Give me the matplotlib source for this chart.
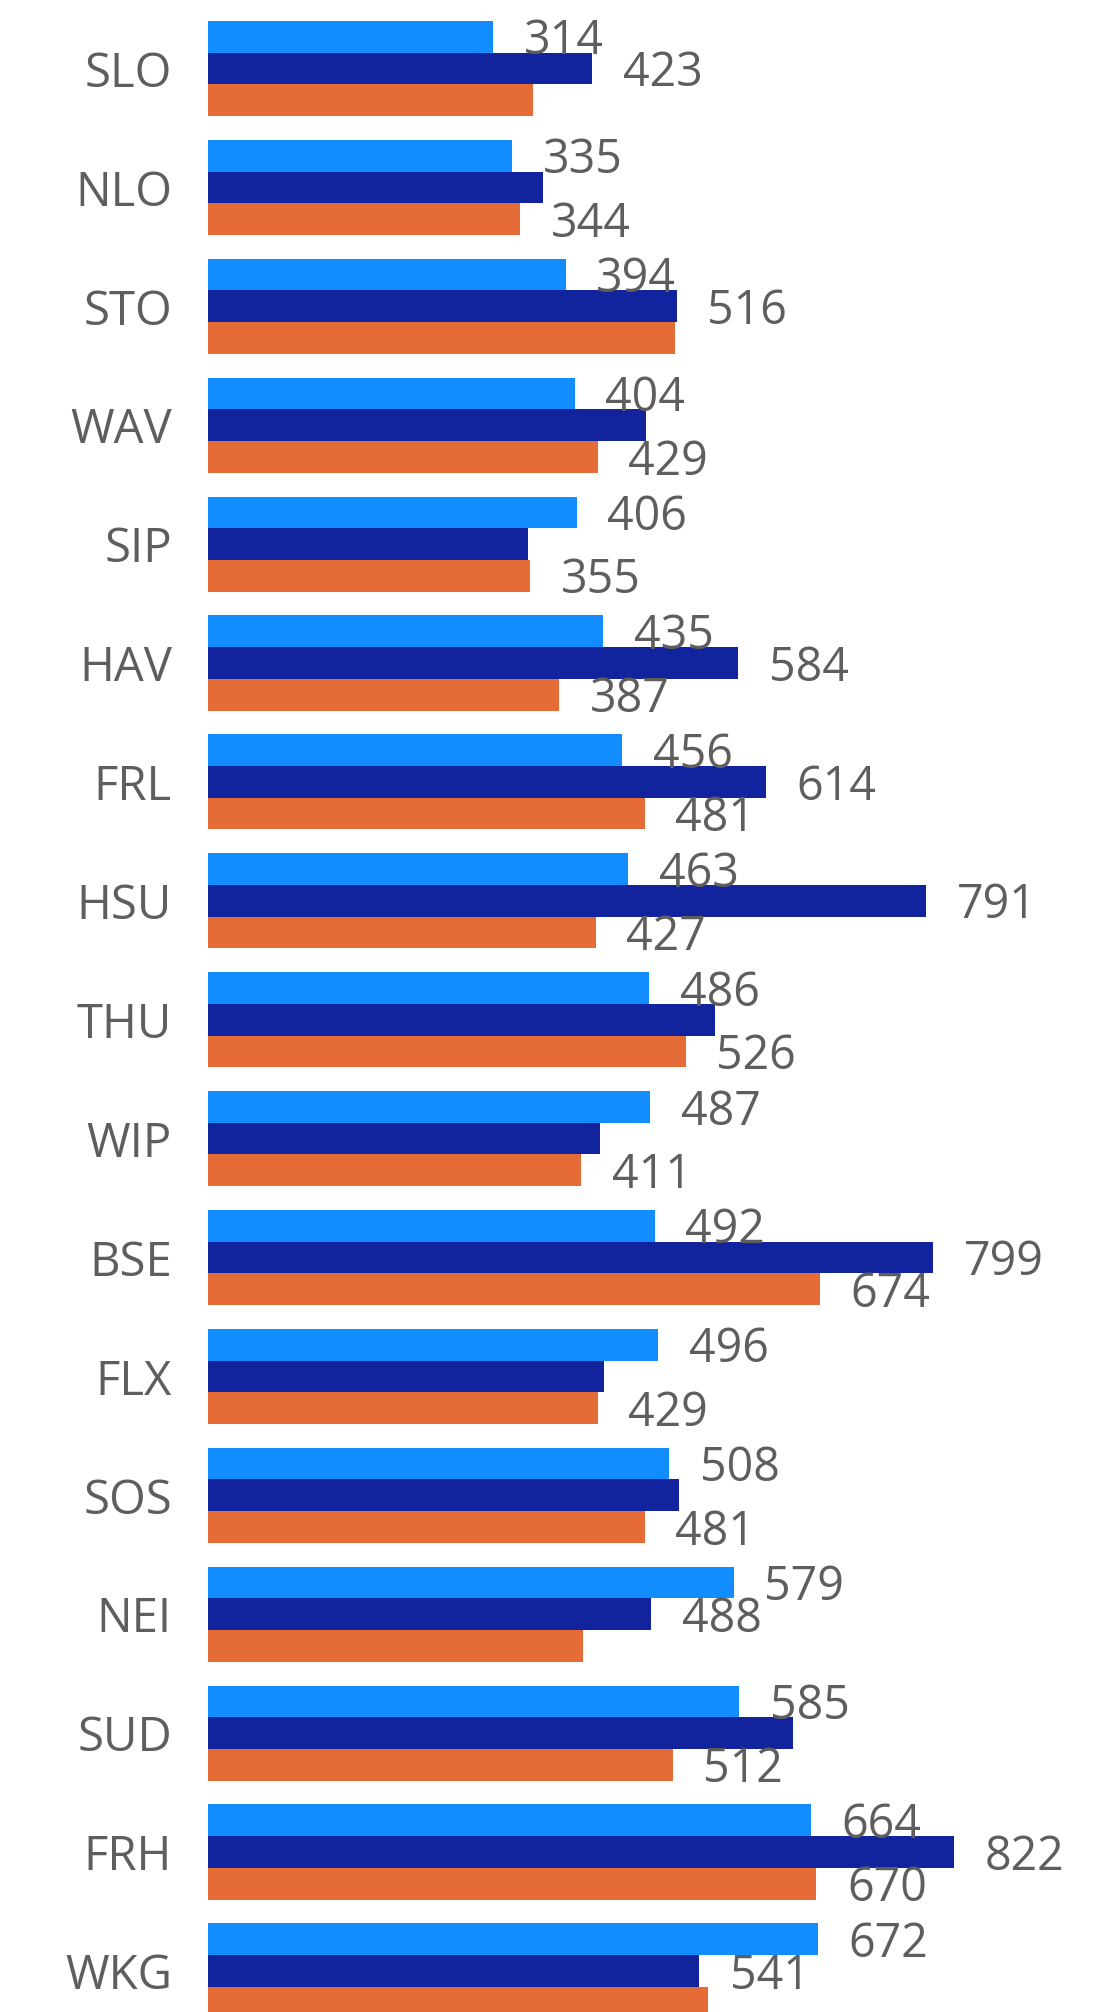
import numpy as np
import matplotlib.pyplot as plt

cats = ['SLO','NLO','STO','WAV','SIP','HAV','FRL','HSU','THU','WIP','BSE','FLX','SOS','NEI','SUD','FRH','WKG']
light = [314,335,394,404,406,435,456,463,486,487,492,496,508,579,585,664,672]
dark = [423,369,516,482,352,584,614,791,558,432,799,436,519,488,644,822,541]
orange = [358,344,514,429,355,387,481,427,526,411,674,429,481,413,512,670,551]
# which data labels are visible in the original
light_lbl = [1]*17
dark_lbl = [1,0,1,0,0,1,1,1,0,0,1,0,0,1,0,1,1]
orange_lbl = [0,1,0,1,1,1,1,1,1,1,1,1,1,0,1,1,0]

colors = ['#118DFF','#12239E','#E66C37']
txt_col = '#605E5C'

plt.rcParams['font.family'] = ['Open Sans','DejaVu Sans']

W,H = 1102,2012
fig = plt.figure(figsize=(W/100,H/100),dpi=100)
x0 = 208
ax = fig.add_axes([x0/W,0,1-x0/W,1])

y = np.arange(len(cats))
h = 0.2667
series = [(light,light_lbl),(dark,dark_lbl),(orange,orange_lbl)]
for k,(vals,lbl) in enumerate(series):
    yy = y+(k-1)*h
    ax.barh(yy,vals,height=h,color=colors[k],linewidth=0)
    for v,yi,show in zip(vals,yy,lbl):
        if show:
            ax.annotate(str(v),xy=(v,yi),xytext=(22,-3.5),textcoords='offset points',
                        ha='left',va='center',fontsize=33.5,color=txt_col)

ax.set_xlim(0,(W-x0)/0.908)
ax.set_ylim((H-68.5)/118.9,-68.5/118.9)
ax.set_yticks(y)
ax.set_yticklabels(cats,fontsize=34,color=txt_col)
ax.tick_params(axis='y',length=0,pad=26)
ax.set_xticks([])
for s in ax.spines.values():
    s.set_visible(False)

fig.savefig('out.png',dpi=100)
